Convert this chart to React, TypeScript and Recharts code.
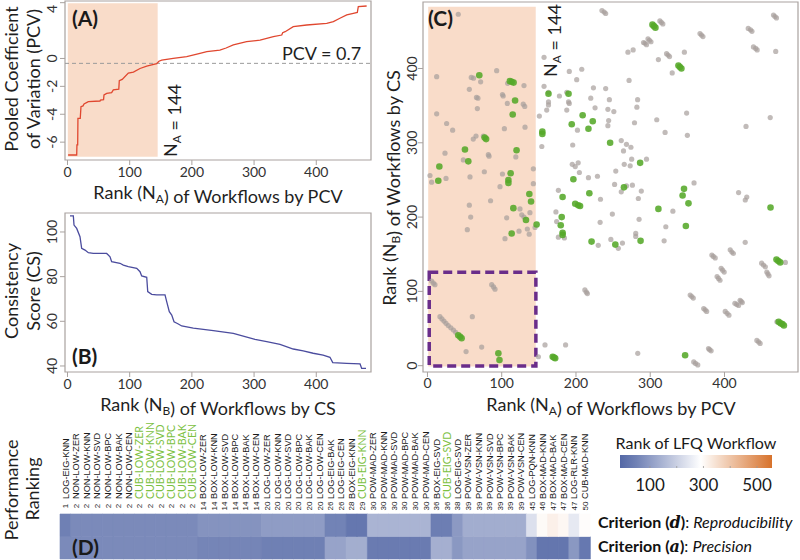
import React from "react";
import {
  LineChart, Line, XAxis, YAxis, ReferenceArea, ReferenceLine,
  ScatterChart, Scatter, BarChart, Bar, Cell,
} from "recharts";

// ---------- Panel A: PCV by rank ----------
const pcvRank = [1, 14.8, 15.2, 16.4, 16.8, 20.5, 21.7, 25, 26.6, 33.5, 52.3, 53, 58, 58.7, 63, 71, 73.7, 82.5, 83.3, 88, 97.8, 106, 116.6, 127.4, 143.4, 147, 151.5, 170, 191.7, 213, 224, 245, 255, 266.6, 288, 309.6, 331, 344.5, 346, 350, 363, 384.6, 416.8, 427.5, 438, 449, 459.6, 466, 467.6, 481];
const pcvValue = [-6.92, -6.92, -6.2, -6.2, -4.3, -4.3, -3.46, -3.4, -3.26, -3.1, -3.05, -2.98, -2.95, -2.62, -2.5, -2.45, -2.25, -2.2, -1.6, -1.5, -1.05, -0.98, -0.72, -0.55, -0.37, -0.2, -0.12, 0.0, 0.13, 0.37, 0.49, 0.6, 0.75, 0.97, 1.2, 1.32, 1.56, 1.68, 1.85, 1.92, 2.28, 2.4, 2.52, 2.64, 2.88, 3.12, 3.24, 3.3, 3.71, 3.76];

// ---------- Panel B: consistency score by rank ----------
const csRank = [4, 9.4, 10.5, 14.8, 20.1, 22.8, 28.2, 33.5, 41.5, 63, 68.4, 71, 84.4, 89.8, 97.8, 111.3, 116.6, 119.3, 127.4, 129, 135.4, 143.4, 156.8, 159.5, 163.7, 167.6, 171.3, 178.2, 183.6, 202.3, 234.5, 266.6, 301.5, 320.3, 341.7, 363, 379, 395, 411, 422, 426.5, 449, 470.4, 473, 480];
const csValue = [107.2, 107.2, 103.1, 101.6, 97.9, 92.7, 91.9, 90.7, 90.4, 90.4, 88.9, 86.7, 86, 85.2, 84.5, 83.7, 82.2, 80.3, 79.7, 73.3, 72.1, 71.8, 71.8, 68.8, 64.3, 62.8, 59.8, 58.8, 57.9, 56.9, 55.8, 54.6, 51.9, 50.9, 49.7, 47.6, 46.8, 45.7, 44.9, 43.9, 41.5, 41.2, 40.9, 38.9, 38.9];

// ---------- Panel C: rank by PCV (x) vs rank by CS (y) ----------
const greyPoints: [number, number][] = [
  [41.5, 473], [12.4, 389], [59, 388], [62, 387], [71.6, 382], [93.2, 397], [108, 380], [56.4, 372], [66, 361], [68, 360],
  [101, 365], [102, 363], [130, 377], [107.6, 353], [129, 352], [131, 349], [67.2, 346], [12.4, 339], [25.8, 326], [33.9, 317],
  [103.6, 319], [131.4, 321], [65.4, 309], [75.3, 309], [61.7, 305], [23.6, 286], [82, 284], [83, 282], [48.3, 277], [119, 281],
  [3.4, 256], [5.6, 247], [25, 252], [76.6, 261], [101, 258], [142.6, 265], [142.6, 245], [97.7, 241], [57.3, 254],
  [157, 415], [157, 376], [163, 368], [163, 355], [163, 351], [160.6, 344], [150.7, 336], [154, 295], [191, 396], [207.8, 399],
  [201, 385], [177.7, 363], [187.6, 368], [190, 355], [191, 353], [187.6, 344], [223.5, 374], [219.9, 360], [225.7, 347], [202, 317],
  [195.6, 297], [195, 271], [199, 268], [203, 273], [204.6, 260], [216.8, 253], [228.9, 255], [240, 373],
  [235, 478], [238, 476], [240, 474],
  [313, 464], [315, 462], [317, 460], [291, 435], [293, 434], [295, 432], [297, 440], [299, 438], [301, 436],
  [367, 447], [369, 445], [371, 443], [322, 420], [324, 418], [326, 416], [432, 454], [435, 452], [437, 450],
  [439, 429], [442, 427], [444, 425], [466, 472], [468, 470], [470, 468],
  [270, 422], [277, 425], [311, 412], [346, 422], [329.6, 394], [469, 423], [271.5, 384], [245, 358], [243, 345], [251, 342],
  [244, 330], [243, 323], [283, 358], [282, 348], [278.8, 327], [308.8, 331], [349, 340], [320, 314], [350, 310], [429, 322],
  [461.6, 334], [261, 303], [268, 298], [274, 294], [264, 289], [275, 278], [265, 271], [273, 269], [295, 278], [253.6, 262],
  [252, 244], [268, 242], [276, 243], [359, 246],
  [85, 222], [56.4, 216], [58.2, 200], [124.6, 211], [127, 203], [130, 200], [138, 206], [106.7, 199], [53.7, 183],
  [144.9, 186], [134.5, 184], [123.3, 181], [137, 177], [104.4, 171],
  [176.3, 236], [173, 207], [174, 194], [176.3, 173], [184.4, 172], [233, 224], [232.5, 193], [230, 162],
  [5.6, 114], [8, 111], [10.1, 109], [86.5, 109], [89, 106], [91, 103],
  [16.8, 66], [19.5, 63], [22.2, 60], [25, 57], [28, 54], [31.5, 51], [35, 48], [38, 45],
  [60.4, 66], [73, 25], [52, 19], [149.4, 12], [158.3, 28], [186, 28], [212, 102], [214, 99], [215.4, 97],
  [261, 234], [288, 235], [284, 225], [330.5, 208], [249, 204], [285, 197], [321, 187], [280.5, 178], [280.5, 174],
  [247, 170], [257, 158], [262.6, 165], [318.7, 168], [419, 233], [430, 227], [428, 223], [427.9, 166],
  [383, 149], [385, 147], [387.5, 145], [407.7, 156], [410, 153], [412, 151], [395.5, 131], [397.5, 128.5], [399.6, 126],
  [390, 120], [392, 117.5], [394, 115], [450, 138], [452.5, 135.5], [455, 133], [457, 126], [458.5, 123.5], [460, 121],
  [482, 139], [353.8, 95], [356, 93], [358, 91], [372, 77], [374, 75], [376, 73], [401, 73], [403.5, 70.5], [406, 68],
  [414, 84], [416.5, 82.5], [419, 81], [421, 88], [422.5, 86.5], [424, 85], [470.6, 59], [443.6, 34], [446, 32], [448, 30],
  [378.5, 23], [380, 21.5], [382, 20], [358.6, 5], [361, 3], [364, 1], [283.2, 16.6],
];
const greenPoints: [number, number][] = [
  [69.8, 391], [111, 383], [113.4, 382], [116, 381], [118, 357], [114.8, 338], [77, 307], [79, 305], [50.5, 291], [120, 290],
  [55, 275], [16, 268], [14.6, 249], [112, 259], [109, 250], [109, 246], [163, 366], [154.7, 315], [154.7, 312], [190, 366],
  [209, 337], [194.3, 325], [222.6, 329], [216.8, 319], [196.5, 251],
  [303, 459], [305, 457], [307, 455], [338, 404], [340, 402], [342, 400], [246, 300], [286.4, 273], [264.6, 240], [345.5, 238],
  [137.2, 231], [139.5, 221], [115.7, 212], [132.7, 196], [147, 190], [113.4, 178], [182, 227], [180.8, 200], [179.5, 189],
  [182, 179], [182, 176], [199, 218], [203, 216], [205.5, 215], [218, 232], [221, 167],
  [41.5, 41], [44, 39], [46, 37], [95.5, 16.6], [97, 7.7], [168.7, 12], [170.5, 11], [172, 10],
  [343.6, 229], [351.5, 218.5], [311, 211], [348, 188], [253, 163], [287, 168], [462, 213],
  [470, 143], [472.5, 141], [475, 139], [473, 59], [475.5, 57], [478, 56], [480, 54], [347, 14],
];

// ---------- Panel D: performance ranking heatmap ----------
const wfNames = [
  "LOG-EIG-KNN", "NON-LOW-ZER", "NON-LOW-KNN", "NON-LOW-SVD", "NON-LOW-BPC", "NON-LOW-BAK", "NON-LOW-CEN",
  "CUB-LOW-ZER", "CUB-LOW-KNN", "CUB-LOW-SVD", "CUB-LOW-BPC", "CUB-LOW-BAK", "CUB-LOW-CEN",
  "BOX-LOW-ZER", "BOX-LOW-KNN", "BOX-LOW-SVD", "BOX-LOW-BPC", "BOX-LOW-BAK", "BOX-LOW-CEN",
  "LOG-LOW-ZER", "LOG-LOW-KNN", "LOG-LOW-SVD", "LOG-LOW-BPC", "LOG-LOW-BAK", "LOG-LOW-CEN",
  "LOG-EIG-BAK", "LOG-EIG-CEN", "BOX-EIG-KNN", "CUB-EIG-KNN",
  "POW-MAD-ZER", "POW-MAD-KNN", "POW-MAD-SVD", "POW-MAD-BPC", "POW-MAD-BAK", "POW-MAD-CEN",
  "BOX-EIG-SVD", "CUB-EIG-SVD", "LOG-EIG-SVD",
  "POW-VSN-ZER", "POW-VSN-KNN", "POW-VSN-SVD", "POW-VSN-BPC", "POW-VSN-BAK", "POW-VSN-CEN",
  "LOG-PQN-KNN", "BOX-MAD-KNN", "BOX-MAD-BAK", "BOX-MAD-CEN", "LOG-RLR-KNN", "CUB-MAD-KNN",
];
const wfPerfRank = [1, 2, 2, 2, 2, 2, 2, 2, 2, 2, 2, 2, 2, 14, 14, 14, 14, 14, 14, 20, 20, 20, 20, 20, 20, 26, 26, 28, 29, 30, 30, 30, 30, 30, 30, 36, 36, 38, 39, 39, 39, 39, 39, 39, 45, 46, 47, 47, 47, 50];
const greenLabels = ["CUB-LOW-ZER", "CUB-LOW-KNN", "CUB-LOW-SVD", "CUB-LOW-BPC", "CUB-LOW-BAK", "CUB-LOW-CEN", "CUB-EIG-KNN", "CUB-EIG-SVD"];
const reproRank = [46, 66, 66, 66, 66, 66, 66, 66, 66, 66, 66, 66, 66, 83, 83, 83, 83, 83, 83, 100, 100, 100, 100, 100, 100, 51, 51, 29, 29, 146, 146, 146, 146, 146, 146, 42, 42, 95, 132, 132, 132, 132, 132, 132, 231, 300, 318, 305, 248, 295];
const precRank = [66, 66, 66, 66, 66, 66, 66, 66, 66, 66, 66, 66, 66, 56, 56, 56, 56, 56, 56, 46, 46, 46, 46, 46, 46, 114, 114, 134, 134, 37, 37, 37, 37, 37, 37, 137, 137, 92, 114, 114, 114, 114, 114, 114, 78, 27, 27, 27, 92, 31];
const colorbarTicks = [100, 300, 500];

// ---------- helpers ----------
const LOW = [84, 104, 166];
const MID = [255, 255, 255];
const HIGH = [214, 112, 40];
function mix(a: number[], b: number[], t: number) {
  const c = a.map((v, i) => Math.round(v + (b[i] - v) * t));
  return `rgb(${c[0]},${c[1]},${c[2]})`;
}
function rankColor(v: number) {
  if (v <= 290) return mix(LOW, MID, Math.max(0, v / 290));
  return mix(MID, HIGH, Math.min(1, (v - 290) / 270));
}

const pcvData = pcvRank.map((x, i) => ({ x, y: pcvValue[i] }));
const csData = csRank.map((x, i) => ({ x, y: csValue[i] }));
const greyData = greyPoints.map(([x, y]) => ({ x, y }));
const greenData = greenPoints.map(([x, y]) => ({ x, y }));
const heatData = wfNames.map((name, i) => ({ name, hA: 1, hD: 1, a: precRank[i], d: reproRank[i] }));

const FONT = "Lato, 'Open Sans', sans-serif";
const FRAME = "#a9a29f";
const TICK_FILL = "#333";

const RotYTick = (props: any) => {
  const { x, y, payload } = props;
  return (
    <text transform={`translate(${x},${y}) rotate(-90)`} textAnchor="middle" fontSize={14} fill={TICK_FILL} fontFamily={FONT}>
      {payload.value}
    </text>
  );
};

const HeatTick = (props: any) => {
  const { x, payload } = props;
  const i = wfNames.indexOf(payload.value);
  const green = greenLabels.includes(payload.value);
  return (
    <g>
      <text
        transform={`translate(${x + (green ? 3.6 : 3.2)},79) rotate(-90)`}
        fontSize={green ? 10.6 : 9.2}
        fill={green ? "#7cc142" : "#1a1a1a"}
        fontFamily={green ? FONT : "'Liberation Sans', Arial, sans-serif"}
        textAnchor="start"
      >
        {payload.value}
      </text>
      <text transform={`translate(${x + 2.8},86) rotate(-90)`} fontSize={8} fill="#1a1a1a" textAnchor="middle"
        fontFamily="'Liberation Sans', Arial, sans-serif">
        {wfPerfRank[i]}
      </text>
    </g>
  );
};

const GreyDot = (p: any) => <circle cx={p.cx} cy={p.cy} r={2.6} fill="#a69e9b" fillOpacity={0.7} />;
const GreenDot = (p: any) => <circle cx={p.cx} cy={p.cy} r={3.3} fill="#55a929" fillOpacity={0.88} />;

const cbX = (v: number) => 620 + (v + 12) * 0.2675;

export default function App() {
  const sub = (t: string) => (
    <>
      <tspan fontSize={12} dy={4}>{t}</tspan>
      <tspan dy={-4}></tspan>
    </>
  );
  const gradStops = [-12, 50, 100, 150, 200, 250, 290, 330, 380, 430, 480, 556];
  return (
    <div style={{ position: "absolute", left: 0, top: 0, width: 800, height: 560, background: "#fff", fontFamily: FONT }}>
      {/* Panel A */}
      <div style={{ position: "absolute", left: 0, top: 0 }}>
        <LineChart width={380} height={200} data={pcvData} margin={{ top: 1, right: 9, bottom: 0, left: 0 }}>
          <XAxis type="number" dataKey="x" domain={[-4, 488]} ticks={[0, 100, 200, 300, 400]} allowDataOverflow
            height={40} axisLine={false} tickLine={{ stroke: FRAME }} tickSize={5} tickMargin={2}
            tick={{ fontSize: 14, fill: TICK_FILL, fontFamily: FONT }} />
          <YAxis type="number" domain={[-7.28, 4.12]} ticks={[-6, -4, -2, 0, 2, 4]} allowDataOverflow width={65}
            axisLine={false} tickLine={{ stroke: FRAME }} tickSize={5} tickMargin={3} tick={<RotYTick />} />
          <ReferenceArea x1={0.5} x2={145} y1={-7.04} y2={3.96} fill="#f9dcc9" fillOpacity={1} stroke="none" ifOverflow="visible" />
          <ReferenceLine y={-0.35} stroke="#9a9a9a" strokeDasharray="4 3" strokeWidth={1} />
          <Line type="linear" dataKey="y" stroke="#e0472f" strokeWidth={1.3} dot={false} isAnimationActive={false} />
          <ReferenceArea x1={-4} x2={488} y1={-7.28} y2={4.12} fill="none" fillOpacity={0} stroke={FRAME} strokeWidth={1.2} ifOverflow="visible" />
        </LineChart>
      </div>

      {/* Panel B */}
      <div style={{ position: "absolute", left: 0, top: 200 }}>
        <LineChart width={380} height={212} data={csData} margin={{ top: 13, right: 9, bottom: 0, left: 0 }}>
          <XAxis type="number" dataKey="x" domain={[-4, 488]} ticks={[0, 100, 200, 300, 400]} allowDataOverflow
            height={40} axisLine={false} tickLine={{ stroke: FRAME }} tickSize={5} tickMargin={2}
            tick={{ fontSize: 14, fill: TICK_FILL, fontFamily: FONT }} />
          <YAxis type="number" domain={[37.3, 108.5]} ticks={[40, 60, 80, 100]} allowDataOverflow width={65}
            axisLine={false} tickLine={{ stroke: FRAME }} tickSize={5} tickMargin={3} tick={<RotYTick />} />
          <Line type="linear" dataKey="y" stroke="#4b4c9e" strokeWidth={1.3} dot={false} isAnimationActive={false} />
          <ReferenceArea x1={-4} x2={488} y1={37.3} y2={108.5} fill="none" fillOpacity={0} stroke={FRAME} strokeWidth={1.2} ifOverflow="visible" />
        </LineChart>
      </div>

      {/* Panel C */}
      <div style={{ position: "absolute", left: 380, top: 0 }}>
        <ScatterChart width={420} height={412} margin={{ top: 2, right: 2, bottom: 0, left: 0 }}>
          <XAxis type="number" dataKey="x" domain={[-6, 499]} ticks={[0, 100, 200, 300, 400]} allowDataOverflow
            height={40} axisLine={false} tickLine={{ stroke: FRAME }} tickSize={5} tickMargin={1}
            tick={{ fontSize: 14, fill: TICK_FILL, fontFamily: FONT }} />
          <YAxis type="number" dataKey="y" domain={[-8.5, 489.5]} ticks={[0, 100, 200, 300, 400]} allowDataOverflow width={43}
            axisLine={false} tickLine={{ stroke: FRAME }} tickSize={5} tickMargin={1} tick={<RotYTick />} />
          <ReferenceArea x1={1} x2={145.8} y1={-1} y2={483} fill="#f9dcc9" fillOpacity={1} stroke="none" ifOverflow="visible" />
          <Scatter data={greyData} shape={<GreyDot />} isAnimationActive={false} />
          <Scatter data={greenData} shape={<GreenDot />} isAnimationActive={false} />
          <ReferenceArea x1={2.4} x2={146} y1={-0.4} y2={125.7} fill="none" fillOpacity={0} stroke="#6a2d8a"
            strokeWidth={3.5} strokeDasharray="9 5" ifOverflow="visible" />
          <ReferenceArea x1={-6} x2={499} y1={-8.5} y2={489.5} fill="none" fillOpacity={0} stroke={FRAME} strokeWidth={1.2} ifOverflow="visible" />
        </ScatterChart>
      </div>

      {/* Panel D heatmap */}
      <div style={{ position: "absolute", left: 0, top: 420 }}>
        <BarChart width={600} height={140} data={heatData} margin={{ top: 0, right: 10, bottom: 1, left: 60 }}
          barCategoryGap={0} barGap={0}>
          <XAxis dataKey="name" type="category" orientation="top" height={94} interval={0}
            axisLine={false} tickLine={false} tick={<HeatTick />} />
          <YAxis hide domain={[0, 2]} />
          <Bar dataKey="hA" stackId="s" isAnimationActive={false}>
            {heatData.map((r, i) => <Cell key={`a${i}`} fill={rankColor(r.a)} stroke={rankColor(r.a)} strokeWidth={0.6} />)}
          </Bar>
          <Bar dataKey="hD" stackId="s" isAnimationActive={false}>
            {heatData.map((r, i) => <Cell key={`d${i}`} fill={rankColor(r.d)} stroke={rankColor(r.d)} strokeWidth={0.6} />)}
          </Bar>
        </BarChart>
      </div>

      {/* Text overlay */}
      <svg width={800} height={560} style={{ position: "absolute", left: 0, top: 0, pointerEvents: "none" }} fontFamily={FONT}>
        <defs>
          <linearGradient id="cb" x1="0" x2="1" y1="0" y2="0">
            {gradStops.map((v) => (
              <stop key={v} offset={(v + 12) / 568} stopColor={rankColor(v)} />
            ))}
          </linearGradient>
        </defs>
        <g fill="#1a1a1a" fontWeight="bold" fontSize={21}>
          <text x={72} y={26}>(A)</text>
          <text x={72} y={364}>(B)</text>
          <text x={428} y={26}>(C)</text>
          <text x={72} y={555}>(D)</text>
        </g>
        <g fill="#1f1f1f" fontSize={18}>
          <text x={282} y={60}>PCV = 0.7</text>
          <text transform="translate(177,157) rotate(-90)">N{sub("A")} = 144</text>
          <text transform="translate(557,77) rotate(-90)">N{sub("A")} = 144</text>

          <text transform="translate(18,79) rotate(-90)" textAnchor="middle">Pooled Coefficient</text>
          <text transform="translate(40,79) rotate(-90)" textAnchor="middle">of Variation (PCV)</text>
          <text x={218} y={199} textAnchor="middle">Rank (N{sub("A")}) of Workflows by PCV</text>

          <text transform="translate(18,291) rotate(-90)" textAnchor="middle">Consistency</text>
          <text transform="translate(40,291) rotate(-90)" textAnchor="middle">Score (CS)</text>
          <text x={218} y={411} textAnchor="middle">Rank (N{sub("B")}) of Workflows by CS</text>

          <text transform="translate(396,188) rotate(-90)" textAnchor="middle">Rank (N{sub("B")}) of Workflows by CS</text>
          <text x={611} y={411} textAnchor="middle">Rank (N{sub("A")}) of Workflows by PCV</text>

          <text transform="translate(18,490) rotate(-90)" textAnchor="middle">Performance</text>
          <text transform="translate(39,489) rotate(-90)" textAnchor="middle">Ranking</text>
        </g>
        <g fill="#111" fontSize={16}>
          <text x={598} y={528}>
            <tspan fontWeight="bold">Criterion (</tspan>
            <tspan fontWeight="bold" fontStyle="italic" fontFamily="'DejaVu Serif', serif">d</tspan>
            <tspan fontWeight="bold">)</tspan>
            <tspan>: </tspan>
            <tspan fontStyle="italic">Reproducibility</tspan>
          </text>
          <text x={598} y={552}>
            <tspan fontWeight="bold">Criterion (</tspan>
            <tspan fontWeight="bold" fontStyle="italic" fontFamily="'DejaVu Serif', serif">a</tspan>
            <tspan fontWeight="bold">)</tspan>
            <tspan>: </tspan>
            <tspan fontStyle="italic">Precision</tspan>
          </text>
        </g>
        {/* colour bar */}
        <text x={696} y={449} textAnchor="middle" fontSize={16} fill="#1a1a1a">Rank of LFQ Workflow</text>
        <rect x={620} y={455} width={152} height={13} fill="url(#cb)" />
        {[100, 200, 300, 400, 500].map((v) => (
          <line key={v} x1={cbX(v)} x2={cbX(v)} y1={466} y2={468} stroke="#999" strokeWidth={0.8} />
        ))}
        {colorbarTicks.map((v) => (
          <text key={v} x={cbX(v)} y={491} textAnchor="middle" fontSize={17} fill="#1a1a1a">{v}</text>
        ))}
      </svg>
    </div>
  );
}
